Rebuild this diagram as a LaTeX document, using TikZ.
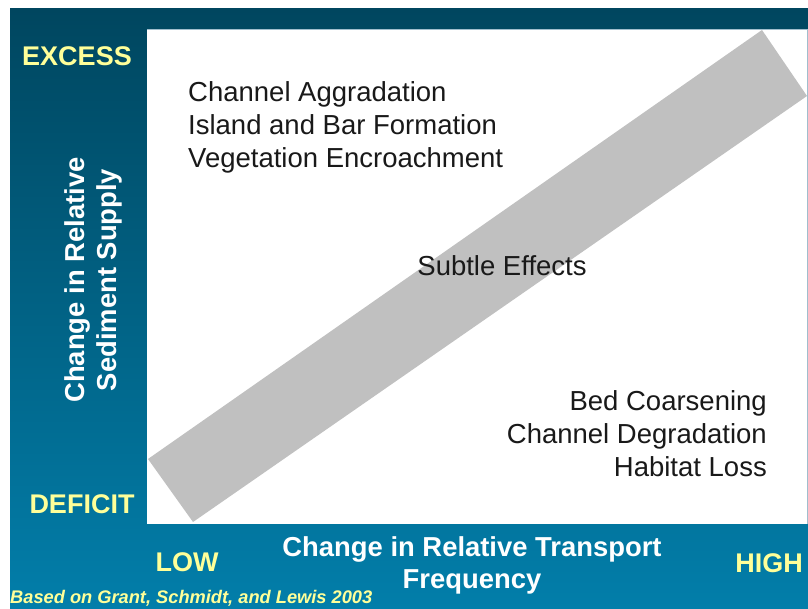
\documentclass[tikz,border=0pt]{standalone}
\usepackage{fontspec}
\setmainfont{Liberation Sans}
\usepackage{tikz}
\usetikzlibrary{positioning}

\definecolor{bgtop}{RGB}{0,70,95}
\definecolor{bgmid}{RGB}{0,90,122}
\definecolor{bgbot}{RGB}{2,126,170}
\definecolor{axisyellow}{RGB}{255,255,153}
\definecolor{bandgray}{RGB}{192,192,192}
\definecolor{plotedge}{RGB}{160,190,205}

\begin{document}
\begin{tikzpicture}[
    x=1pt, y=1pt,
    endlbl/.style={font=\fontsize{27}{30}\selectfont\bfseries, text=axisyellow,
                   inner sep=0pt},
    axislbl/.style={font=\fontsize{27.4}{32}\selectfont\bfseries, text=white,
                    align=center, inner sep=0pt},
    effect/.style={font=\fontsize{27.5}{33}\selectfont, text=black!90,
                   inner sep=0pt},
    srclbl/.style={font=\fontsize{18.25}{20}\selectfont\bfseries\itshape,
                   text=axisyellow, inner sep=0pt}
  ]
    \useasboundingbox (0,0) rectangle (808,609);
    \fill[white] (0,0) rectangle (808,609);
    \shade[top color=bgtop, middle color=bgmid, bottom color=bgbot]
      (10,0) rectangle (808,600);

    % plot area and the band of subtle effects
    \fill[white] (147,85) rectangle (807,580);
    \begin{scope}
      \clip (147,85) rectangle (807,580);
      \fill[bandgray] (148,150) -- (193,87) -- (807,513) -- (762,579) -- cycle;
    \end{scope}
    \draw[plotedge, line width=0.8pt] (147,580) -- (807,580) -- (807,85);

    % axis ends
    \node[endlbl] (excess)  at (77,553)  {EXCESS};
    \node[endlbl] (deficit) at (82,105)  {DEFICIT};
    \node[endlbl] (low)     at (187,47)  {LOW};
    \node[endlbl] (high)    at (769,46)  {HIGH};

    % axis titles
    \node[axislbl] (xtitle) at (472,44) {Change in Relative Transport\\Frequency};
    \node[axislbl, rotate=90] (ytitle) at (93,329) {Change in Relative\\Sediment Supply};

    % effects
    \node[effect, anchor=west, align=left] (excesseff) at (188,482)
      {Channel Aggradation\\Island and Bar Formation\\Vegetation Encroachment};
    \node[effect] (subtle) at (502,343) {Subtle Effects};
    \node[effect, anchor=east, align=right] (deficiteff) at (767,175)
      {Bed Coarsening\\Channel Degradation\\Habitat Loss};

    \node[srclbl, anchor=west] (source) at (10,11)
      {Based on Grant, Schmidt, and Lewis 2003};
  \end{tikzpicture}
\end{document}
